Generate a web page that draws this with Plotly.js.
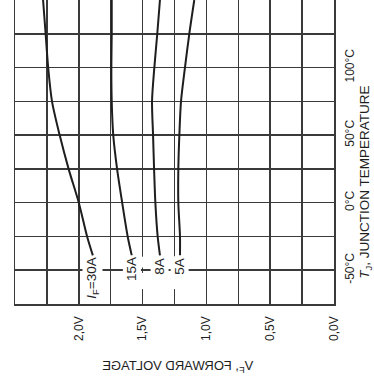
<!DOCTYPE html>
<html>
<head>
<meta charset="utf-8">
<script src="https://cdn.plot.ly/plotly-3.0.1.min.js"></script>
<style>
  html, body { margin: 0; padding: 0; background: #fff; }
  #chart { width: 374px; height: 383px; }
</style>
</head>
<body>
<div id="chart"></div>
<script>
// Junction temperature samples (°C) and forward voltage (V) per forward current
const temps = [-39, -25, 0, 25, 50, 75, 100, 125, 150];
const vf30A = [1.89, 1.935, 2.0, 2.08, 2.15, 2.21, 2.24, 2.26, 2.28];
const vf15A = [1.585, 1.617, 1.66, 1.70, 1.73, 1.742, 1.745, 1.742, 1.742];
const vf8A  = [1.364, 1.382, 1.40, 1.41, 1.418, 1.426, 1.408, 1.385, 1.364];
const vf5A  = [1.207, 1.207, 1.22, 1.22, 1.212, 1.199, 1.168, 1.134, 1.095];

const seriesLabels = ['<i>I</i><sub>F</sub>=30A', '15A', '8A', '5A'];

// Labelled ticks and the extra grid lines between them
const voltTicks = [0, 0.5, 1.0, 1.5, 2.0];
const voltText  = ['0,0V', '0,5V', '1,0V', '1,5V', '2,0V'];
const voltGrid  = [0.25, 0.75, 1.25, 1.75, 2.25];
const tempTicks = [-50, 0, 50, 100];
const tempText  = ['-50°C', '0°C', '50°C', '100°C'];
const tempGrid  = [-75, -25, 25, 75, 125];

const FONT = 'Liberation Sans, Arial, sans-serif';
const INK = '#1e1e1e';
const GRID = '#3a3a3a';

const series = [vf30A, vf15A, vf8A, vf5A];
const traces = series.map(v => ({
  x: v, y: temps, type: 'scatter', mode: 'lines',
  line: { color: INK, width: 2, shape: 'spline', smoothing: 0.8 },
  hoverinfo: 'skip', showlegend: false
}));

// Curve labels sit just below the low-temperature end of each curve
const labelAnnots = series.map((v, i) => ({
  x: v[0], y: temps[0], xref: 'x', yref: 'y',
  text: seriesLabels[i], showarrow: false, textangle: -90,
  xanchor: 'center', yanchor: 'top',
  bgcolor: '#fff', borderpad: 1,
  font: { family: FONT, size: 13.5, color: INK }
}));

const titleAnnots = [
  { text: '<i>T</i><sub>J</sub>, JUNCTION TEMPERATURE', xref: 'paper', yref: 'paper',
    x: 1.098, y: 0.40, textangle: -90, showarrow: false,
    xanchor: 'center', yanchor: 'middle',
    font: { family: FONT, size: 13.5, color: INK } },
  { text: 'V<sub>F</sub>, FORWARD VOLTAGE', xref: 'paper', yref: 'paper',
    x: 0.508, y: -0.205, showarrow: false,
    xanchor: 'center', yanchor: 'middle',
    font: { family: FONT, size: 13, color: INK } }
];

// Small white patches break the vertical grid lines around the label row
const gaps = [1.5, 1.25].flatMap(xv => [
  { type: 'rect', layer: 'between', xref: 'x', yref: 'y',
    x0: xv - 0.02, x1: xv + 0.02, y0: -48, y1: -40,
    line: { width: 0 }, fillcolor: '#fff' },
  { type: 'rect', layer: 'between', xref: 'x', yref: 'y',
    x0: xv - 0.02, x1: xv + 0.02, y0: -64, y1: -52,
    line: { width: 0 }, fillcolor: '#fff' }
]);

const axisCommon = {
  tickmode: 'array', tickangle: -90, ticks: '',
  showgrid: true, gridcolor: GRID, gridwidth: 1.5,
  showline: true, linecolor: GRID, linewidth: 1.5, mirror: true,
  zeroline: false, tickfont: { family: FONT, size: 12, color: INK }
};

const layout = {
  width: 374, height: 383,
  margin: { l: 15, r: 40, t: 0, b: 79 },
  paper_bgcolor: '#fff', plot_bgcolor: '#fff',
  font: { family: FONT, size: 12, color: INK },
  xaxis: Object.assign({}, axisCommon, {
    range: [2.5, 0], tickvals: voltTicks, ticktext: voltText, ticklabelstandoff: 6,
    minor: { tickmode: 'array', tickvals: voltGrid, ticks: '', showgrid: true, gridcolor: GRID, gridwidth: 1.5 }
  }),
  yaxis: Object.assign({}, axisCommon, {
    range: [-75, 150], side: 'right', tickvals: tempTicks, ticktext: tempText, ticklabelstandoff: 4,
    minor: { tickmode: 'array', tickvals: tempGrid, ticks: '', showgrid: true, gridcolor: GRID, gridwidth: 1.5 }
  }),
  shapes: gaps,
  annotations: labelAnnots.concat(titleAnnots),
  showlegend: false
};

Plotly.newPlot('chart', traces, layout, { staticPlot: true, displayModeBar: false }).then(gd => {
  // The voltage axis title is printed mirrored left-to-right
  gd.querySelectorAll('.annotation-text').forEach(t => {
    if (t.textContent.indexOf('FORWARD') === -1) return;
    const b = t.getBBox();
    const cx = b.x + b.width / 2;
    const prev = t.getAttribute('transform') || '';
    t.setAttribute('transform', prev + ' translate(' + (2 * cx) + ',0) scale(-1,1)');
  });
});
</script>
</body>
</html>
